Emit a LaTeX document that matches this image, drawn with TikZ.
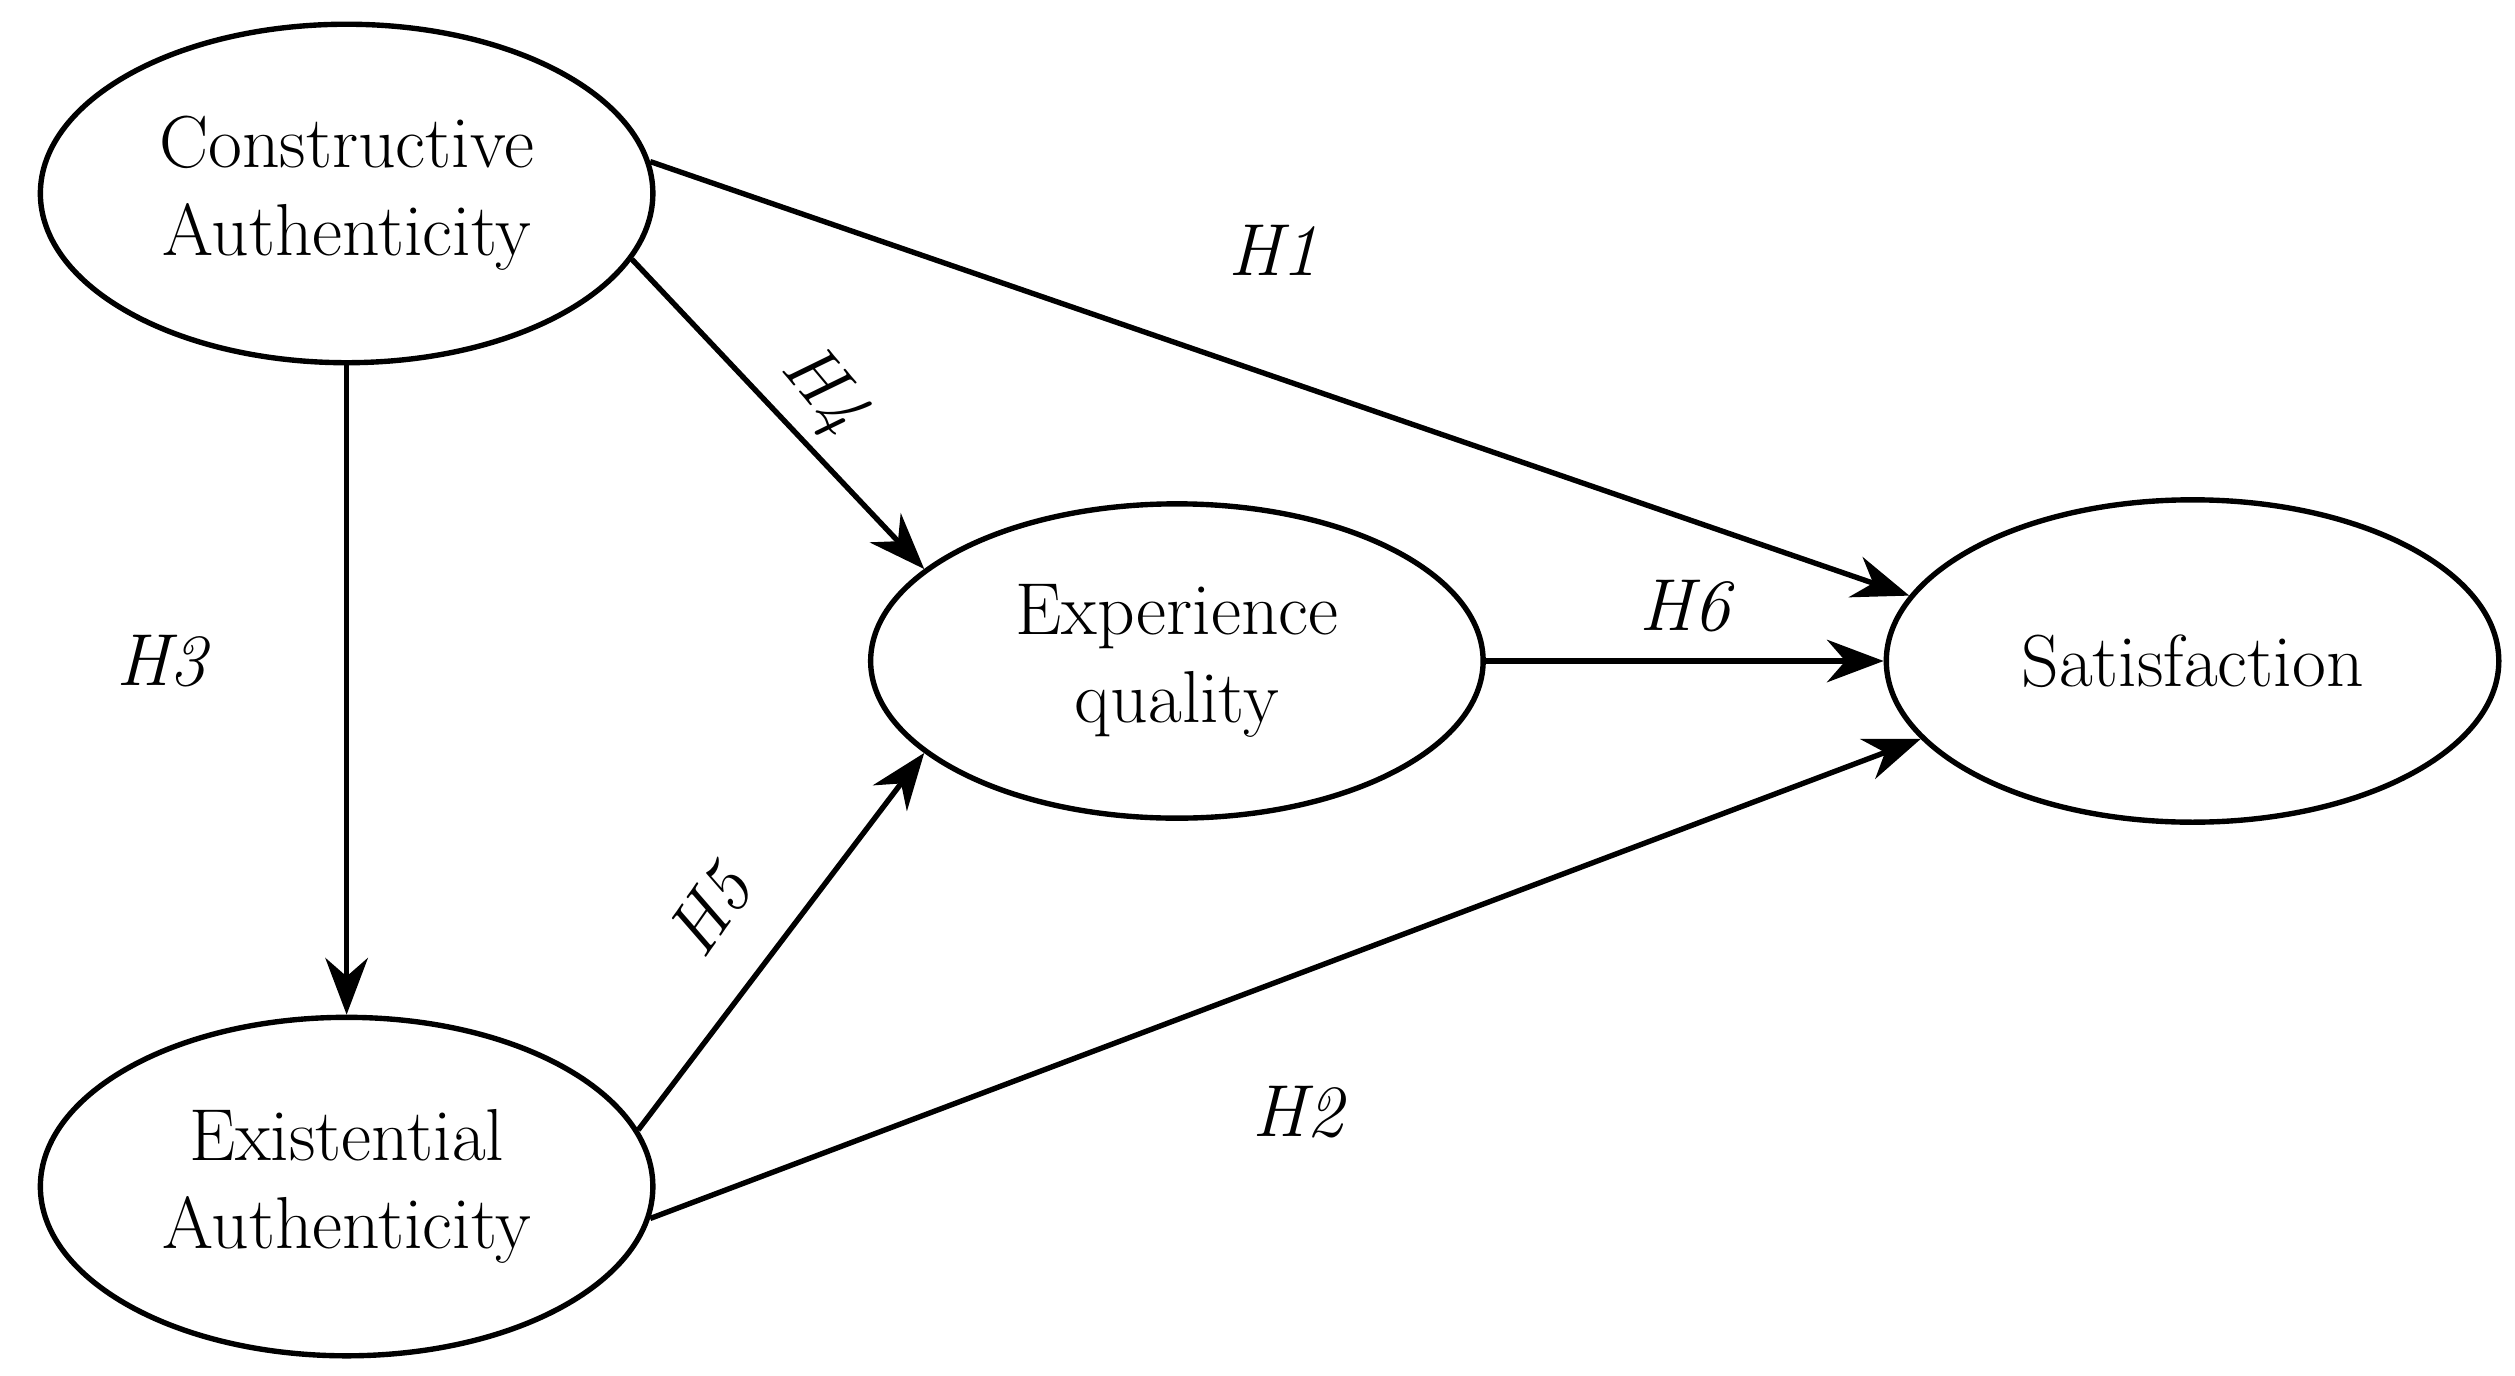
\documentclass[tikz,border=0pt]{standalone}
\usetikzlibrary{arrows.meta,shapes.geometric}
\begin{document}
\begin{tikzpicture}[x=0.02cm,y=-0.02cm,
  lat/.style={draw,ellipse,line width=1.9pt,minimum width=7.6cm,minimum height=4.1cm,align=center,font=\fontsize{26}{31}\selectfont,inner sep=0pt},
  arr/.style={line width=1.9pt,-{Stealth[length=20pt,width=15pt]}},
  lab/.style={font=\fontsize{26}{31}\selectfont\itshape}]
\useasboundingbox (0,0) rectangle (1560,853);
\node[lat,minimum height=4.2cm] (CA) at (215,120) {Constructive\\Authenticity};
\node[lat,minimum height=4.2cm] (EA) at (215,736) {Existential\\Authenticity};
\node[lat,minimum height=3.9cm] (EQ) at (730,410) {Experience\\quality};
\node[lat,minimum height=4.0cm] (SAT) at (1360,410) {Satisfaction};
\draw[arr] (CA.6) -- (SAT.167);
\draw[arr] (CA.-13) -- (EQ.160);
\draw[arr] (CA.south) -- (EA.north);
\draw[arr] (EQ.east) -- (SAT.west);
\draw[arr] (EA.11) -- (EQ.200);
\draw[arr] (EA.-6) -- (SAT.196);
\node[lab] (h1) at (790,155) {H1};
\node[lab,rotate=-50] (h4) at (510,243) {H4};
\node[lab] (h3) at (100,410) {H3};
\node[lab] (h6) at (1045,376) {H6};
\node[lab,rotate=55] (h5) at (440,565) {H5};
\node[lab] (h2) at (805,690) {H2};
\end{tikzpicture}
\end{document}
